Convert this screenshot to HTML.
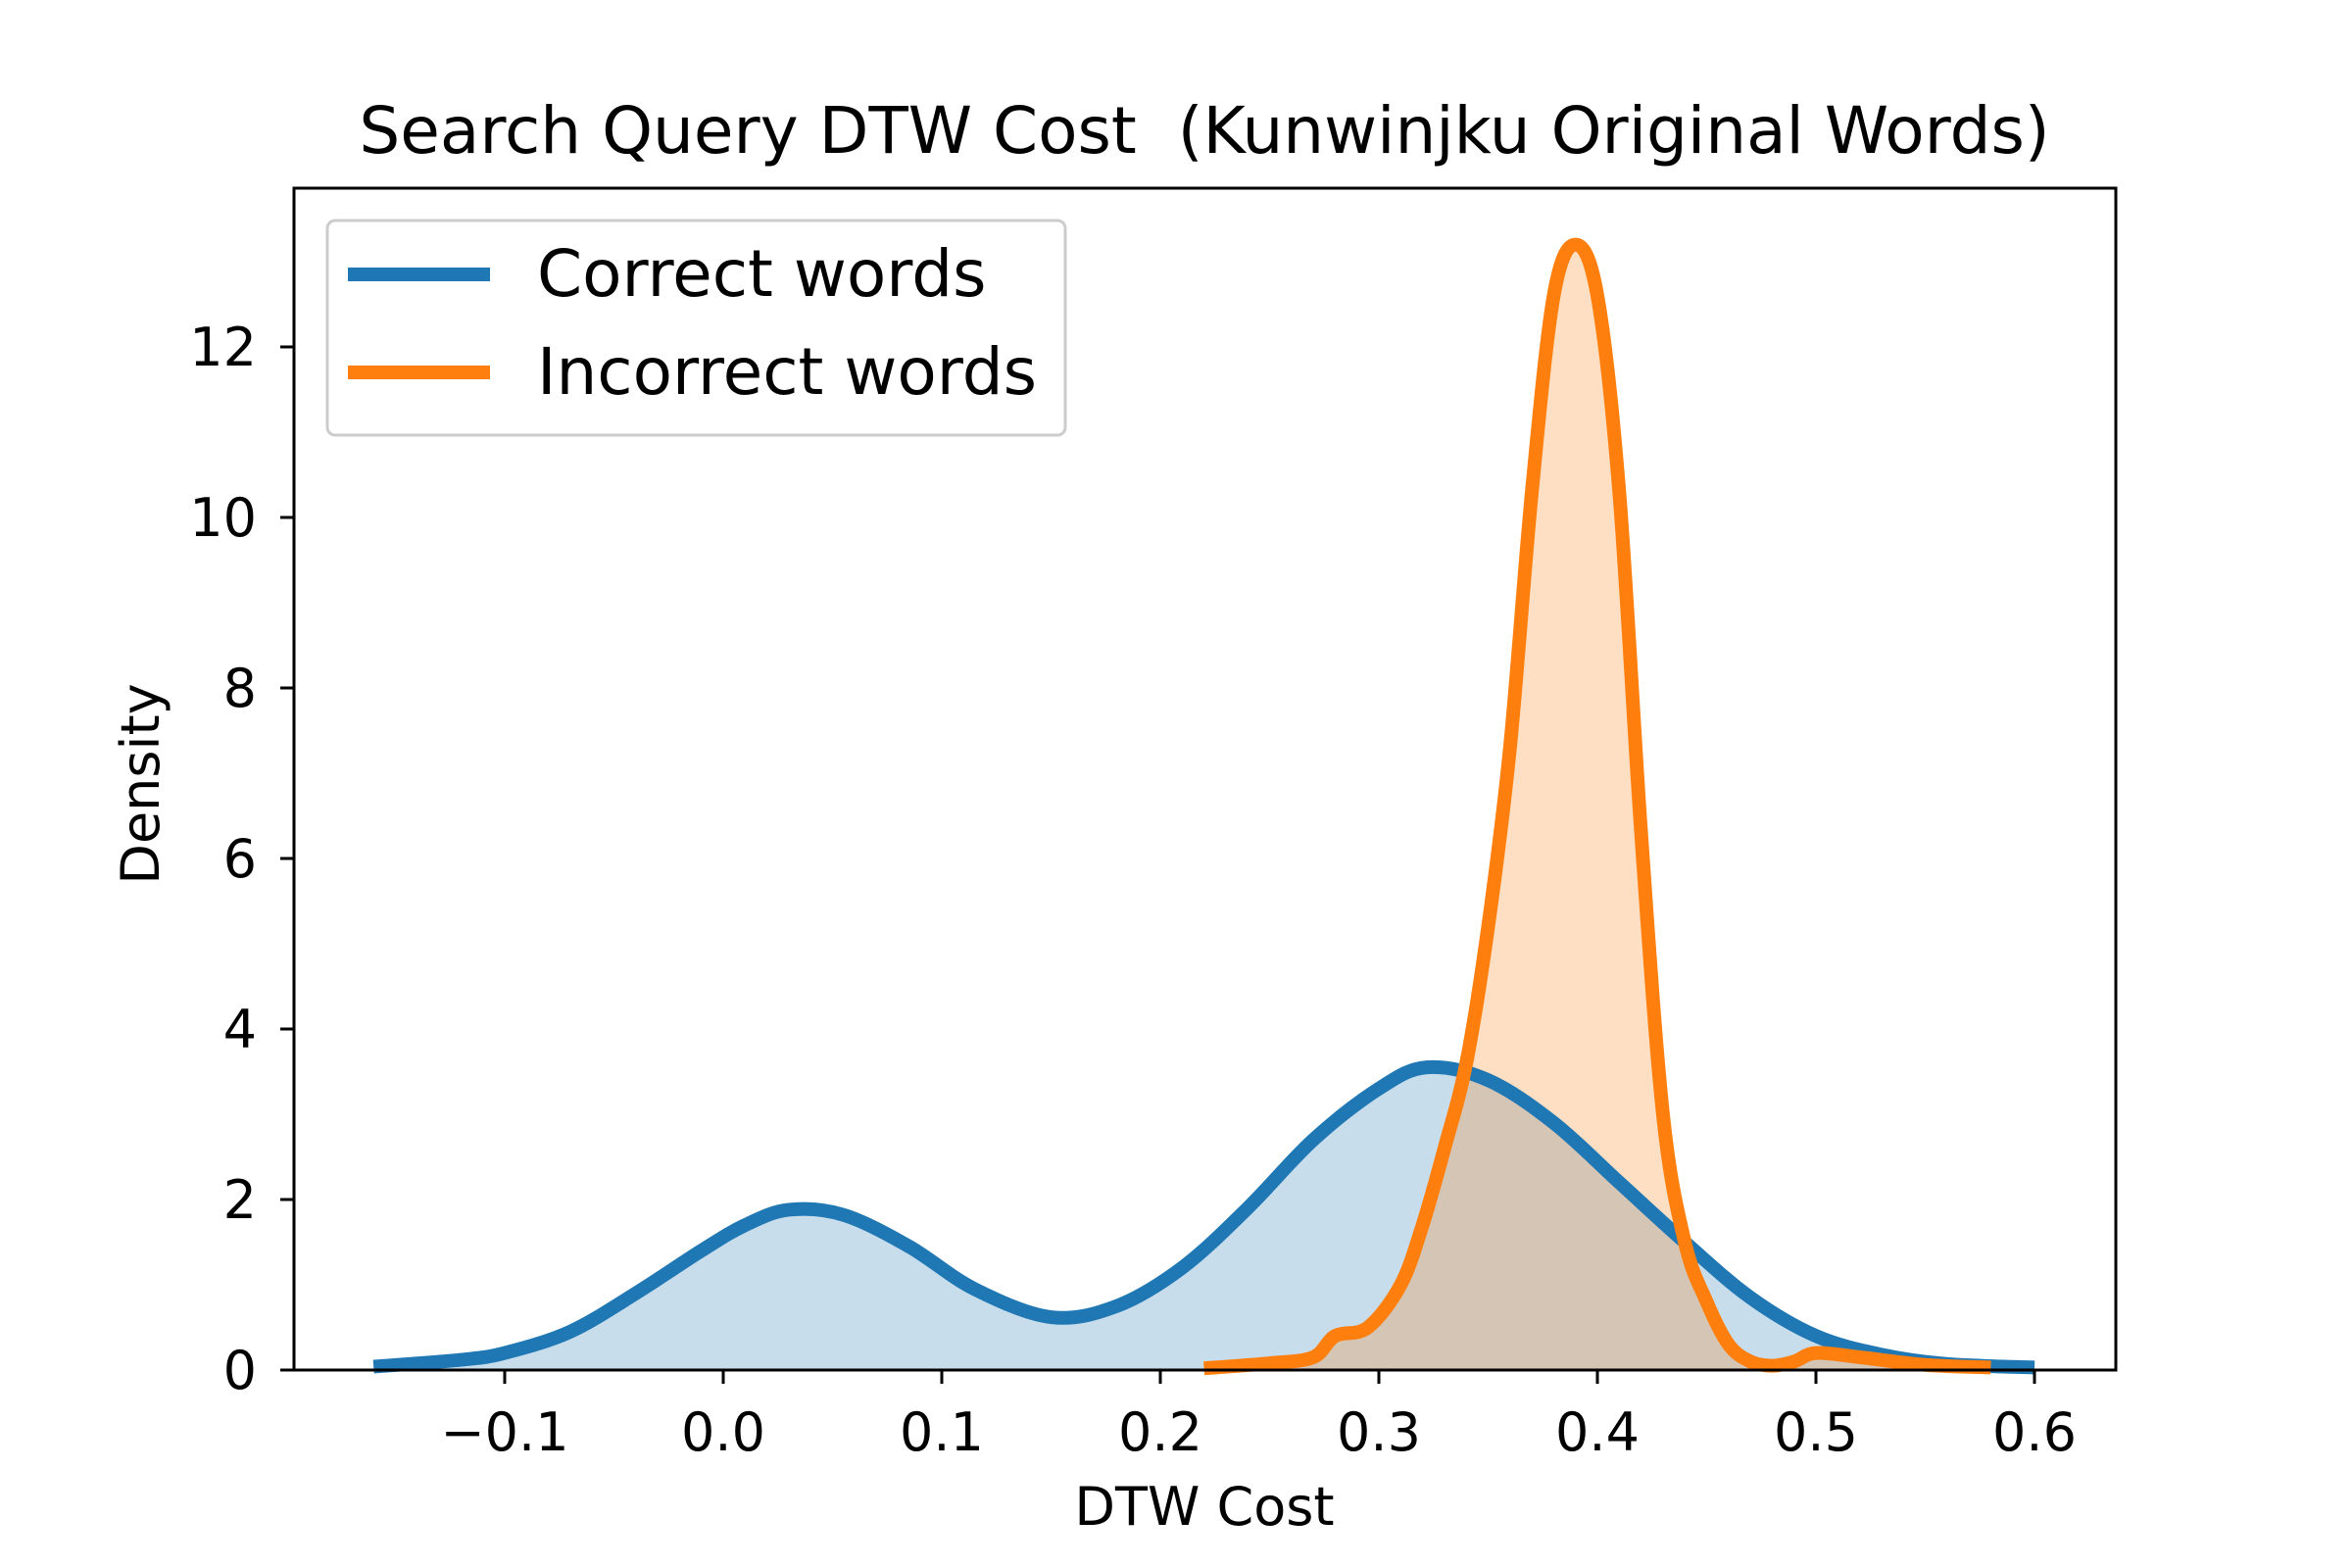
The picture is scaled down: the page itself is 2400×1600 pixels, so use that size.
<!DOCTYPE html>
<html><head><meta charset="utf-8"><style>
body{margin:0;background:#fff}
svg{display:block;font-family:"DejaVu Sans","Liberation Sans",sans-serif}
</style></head><body>
<svg id="chart" width="2400" height="1600" viewBox="0 0 2400 1600">
<rect width="2400" height="1600" fill="#fff"/>
<text x="1229" y="156" font-size="66" text-anchor="middle" xml:space="preserve">Search Query DTW Cost  (Kunwinjku Original Words)</text>
<g id="fills"></g>
<g id="lines"></g>
<rect x="300" y="192" width="1859" height="1206" fill="none" stroke="#000" stroke-width="3"/>
<g id="ticks"></g>
<text x="1229" y="1556" font-size="54" text-anchor="middle">DTW Cost</text>
<text x="0" y="0" font-size="54" text-anchor="middle" transform="translate(162,800) rotate(-90)">Density</text>
<g>
<rect x="334" y="225" width="753" height="219" rx="8" fill="#fff" fill-opacity="0.8" stroke="#ccc" stroke-width="3"/>
<line x1="355" y1="280" x2="500" y2="280" stroke="#1f77b4" stroke-width="14"/>
<text x="548" y="302" font-size="66">Correct words</text>
<line x1="355" y1="380" x2="500" y2="380" stroke="#ff7f0e" stroke-width="14"/>
<text x="548" y="402" font-size="66">Incorrect words</text>
</g>
</svg>
<script>
const correctX=[-0.16,-0.12,-0.1,-0.07,-0.04,-0.01,0.01,0.03,0.055,0.085,0.115,0.15,0.18,0.21,0.24,0.27,0.30,0.322,0.35,0.38,0.41,0.44,0.47,0.50,0.53,0.56,0.60];
const correctY=[0.04,0.12,0.2,0.45,0.9,1.4,1.7,1.88,1.82,1.45,0.95,0.62,0.75,1.2,1.9,2.7,3.3,3.55,3.4,2.9,2.2,1.5,0.85,0.4,0.18,0.07,0.03];
const incorrectX=[0.22,0.25,0.27,0.28,0.295,0.31,0.32,0.33,0.34,0.35,0.36,0.37,0.38,0.39,0.40,0.41,0.42,0.43,0.44,0.45,0.46,0.47,0.48,0.49,0.50,0.52,0.55,0.58];
const incorrectY=[0.02,0.08,0.15,0.4,0.5,1.0,1.7,2.6,3.6,5.2,7.3,10.3,12.6,13.2,12.6,10.3,6.3,3.0,1.5,0.8,0.3,0.1,0.05,0.1,0.2,0.15,0.06,0.03];
const xTicks=[-0.1,0,0.1,0.2,0.3,0.4,0.5,0.6];
const xTickLabels=["\u22120.1","0.0","0.1","0.2","0.3","0.4","0.5","0.6"];
const yTicks=[0,2,4,6,8,10,12];
const yTickLabels=["0","2","4","6","8","10","12"];
const sx=v=>738+v*2230;
const sy=v=>1398-v*87;
const NS="http://www.w3.org/2000/svg";
function mk(t,a,p){const e=document.createElementNS(NS,t);for(const k in a)e.setAttribute(k,a[k]);p.appendChild(e);return e;}
function curve(xs,ys){
  const p=xs.map((x,i)=>[sx(x),sy(ys[i])]);
  let d="M"+p[0][0]+","+p[0][1];
  for(let i=0;i<p.length-1;i++){
    const p0=p[i-1]||p[i],p1=p[i],p2=p[i+1],p3=p[i+2]||p[i+1];
    const c1=[p1[0]+(p2[0]-p0[0])/6,p1[1]+(p2[1]-p0[1])/6];
    const c2=[p2[0]-(p3[0]-p1[0])/6,p2[1]-(p3[1]-p1[1])/6];
    d+=" C"+c1+" "+c2+" "+p2;
  }
  return d;
}
const fills=document.getElementById("fills");
const lines=document.getElementById("lines");
function series(xs,ys,col,name){
  const c=curve(xs,ys);
  const f=mk("path",{d:c+" L"+sx(xs[xs.length-1])+","+sy(0)+" L"+sx(xs[0])+","+sy(0)+"Z",fill:col,"fill-opacity":"0.25"},fills);
  
  
  const l=mk("path",{d:c,fill:"none",stroke:col,"stroke-width":"14","stroke-linejoin":"round"},lines);
  
  
}
series(correctX,correctY,"#1f77b4","correct-kde");
series(incorrectX,incorrectY,"#ff7f0e","incorrect-kde");
const tg=document.getElementById("ticks");
xTicks.forEach((v,i)=>{
  const t=mk("line",{x1:sx(v),x2:sx(v),y1:1398,y2:1412,stroke:"#000","stroke-width":"3"},tg);
  
  
  const l=mk("text",{x:sx(v),y:1480,"font-size":"54","text-anchor":"middle"},tg);
  l.textContent=xTickLabels[i];
  
  
});
yTicks.forEach((v,i)=>{
  const t=mk("line",{x1:286,x2:300,y1:sy(v),y2:sy(v),stroke:"#000","stroke-width":"3"},tg);
  
  
  const l=mk("text",{x:262,y:sy(v)+19,"font-size":"54","text-anchor":"end"},tg);
  l.textContent=yTickLabels[i];
  
  
});
</script>
</body></html>
